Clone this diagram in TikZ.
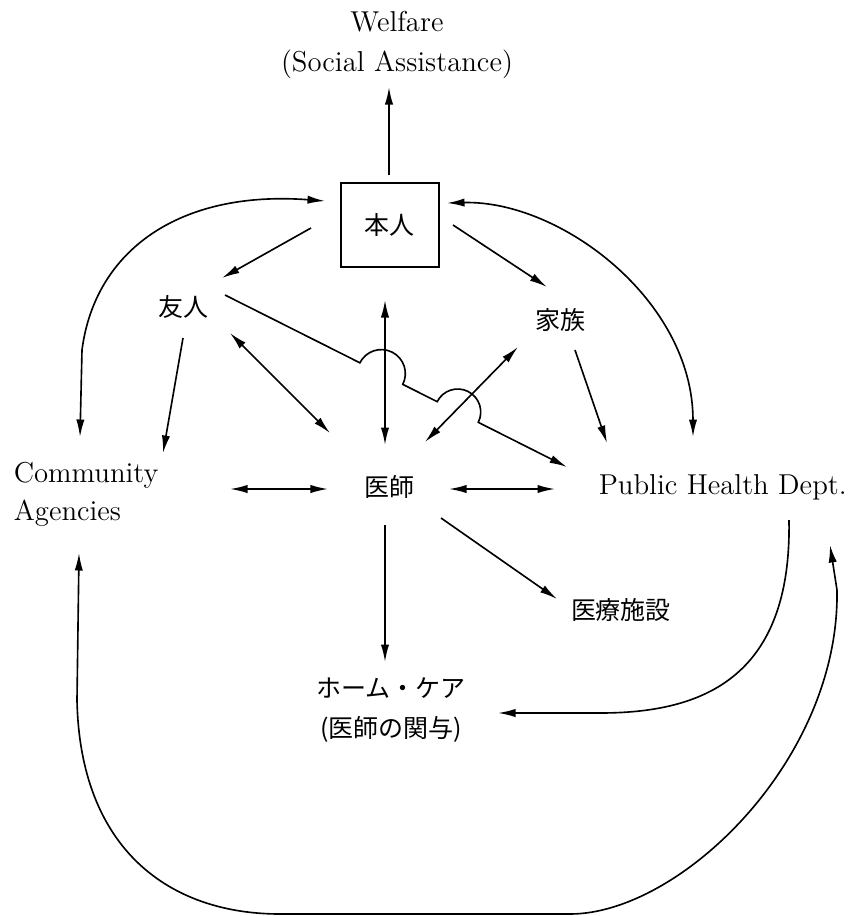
\documentclass[tikz,border=0pt]{standalone}
\usepackage{fontspec}
\newfontfamily\jpfont{Noto Sans CJK JP}
\usetikzlibrary{arrows.meta}

\begin{document}
\begin{tikzpicture}[x=0.4pt,y=-0.4pt,
        every node/.style={inner sep=0pt},
        lat/.style={font=\fontsize{11.5}{16}\selectfont, align=center},
        jp/.style={font=\jpfont\fontsize{10}{16}\selectfont, align=center},
        >={Latex[length=7pt,width=3.3pt]},
        line width=0.65pt]
        \useasboundingbox (0,0) rectangle (851,916);
        % nodes
        \node[lat] (welfare) at (397,45) {Welfare\\(Social Assistance)};
        \node[jp, draw, minimum width=39.2pt, minimum height=33.6pt] (honin) at (390,225) {本人};
        \node[jp] (yujin) at (184,307) {友人};
        \node[jp] (kazoku) at (560,320) {家族};
        \node[jp] (ishi) at (390,487) {医師};
        \node[lat, align=left, anchor=west, font=\fontsize{11.5}{15.2}\selectfont] (comm) at (13,494) {Community\\Agencies};
        \node[lat, anchor=west] (phd) at (598,487) {Public Health Dept.};
        \node[jp] (iryo) at (621,610) {医療施設};
        \node[jp] (home) at (391,710) {ホーム・ケア\\(医師の関与)};
        % straight links
        \draw[->] ([shift={(-1,-50)}]honin.center) -- ([shift={(-8,42)}]welfare.center);
        \draw[->] ([shift={(-79,3)}]honin.center) -- ([shift={(38,-29)}]yujin.center);
        \draw[->] ([shift={(63,0)}]honin.center) -- ([shift={(-13,-33)}]kazoku.center);
        \draw[<->] ([shift={(-5,75)}]honin.center) -- ([shift={(-5,-42)}]ishi.center);
        \draw[<->] ([shift={(46,26)}]yujin.center) -- ([shift={(-60,-54)}]ishi.center);
        \draw[<->] ([shift={(-42,27)}]kazoku.center) -- ([shift={(35,-45)}]ishi.center);
        \draw[->] ([shift={(-1,31)}]yujin.center) -- ([shift={(150,-41)}]comm.west);
        \draw[->] ([shift={(15,30)}]kazoku.center) -- ([shift={(9,-44)}]phd.west);
        \draw[<->] ([shift={(217,-5)}]comm.west) -- ([shift={(-62,2)}]ishi.center);
        \draw[<->] ([shift={(59,2)}]ishi.center) -- ([shift={(-43,2)}]phd.west);
        \draw[->] ([shift={(51,31)}]ishi.center) -- ([shift={(-64,-11)}]iryo.center);
        \draw[->] ([shift={(-5,38)}]ishi.center) -- ([shift={(-6,-48)}]home.center);
        % friend to health dept, hopping over two lines
        \draw[->] ([shift={(41,-12)}]yujin.center) -- ++(134.9,67.8)
            arc[start angle=153.3, end angle=-26.7, radius=9.6pt] -- ++(34.4,17.3)
            arc[start angle=153.3, end angle=-26.7, radius=9.2pt] -- ([shift={(-31,-20)}]phd.west);
        % curved links
        \draw[<->] ([shift={(67,-57)}]comm.west) -- ++(2,-87)
            .. controls (95,250) and (180,190) .. ([shift={(-65,-24)}]honin.center);
        \draw[<->] ([shift={(57,-22)}]honin.center)
            .. controls (560,200) and (693,300) .. ([shift={(95,-50)}]phd.west);
        \draw[->] ([shift={(191,33)}]phd.west)
            .. controls (792,680) and (700,713) .. (600,713) -- ([shift={(107,3)}]home.center);
        \draw[<->] ([shift={(66,59)}]comm.west) -- (77,700)
            .. controls (80,850) and (170,914) .. (280,914) -- (570,914)
            .. controls (680,914) and (840,760) .. (837,590) -- ([shift={(232,58)}]phd.west);
\end{tikzpicture}
\end{document}
